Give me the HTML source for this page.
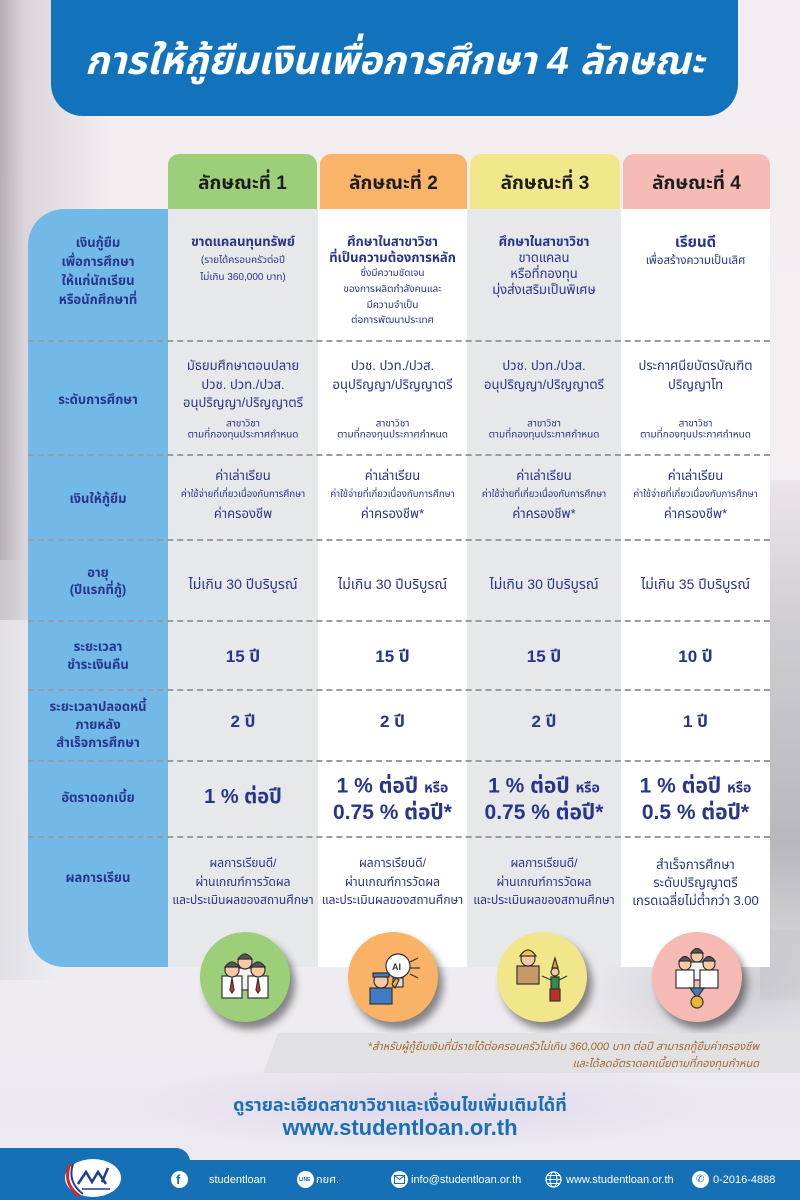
<!DOCTYPE html>
<html>
<head>
<meta charset="utf-8">
<style>
*{margin:0;padding:0;box-sizing:border-box;}
html,body{width:800px;height:1200px;overflow:hidden;}
body{position:relative;font-family:"Liberation Sans","Noto Sans Thai","Noto Sans Thai UI","Loma","Garuda","Tlwg Typo","Norasi","Kinnari","Noto Sans CJK SC",sans-serif;
background:linear-gradient(180deg,#f3ecf0 0%,#f4eef1 35%,#efedf0 60%,#eeedf0 80%,#ece8f0 92%,#eeeaf2 100%);}
.bgl{position:absolute;left:0;top:0;width:120px;height:620px;background:linear-gradient(90deg,rgba(160,155,160,0.75) 0,rgba(190,185,190,0.45) 25px,rgba(220,215,220,0) 110px);}
.bgl2{position:absolute;left:0;top:560px;width:60px;height:420px;background:linear-gradient(90deg,rgba(215,215,220,0.6),rgba(230,230,235,0));}
.bgr{position:absolute;right:0;top:480px;width:40px;height:520px;background:linear-gradient(180deg,rgba(220,210,215,0.3) 0,rgba(190,190,196,0.7) 30%,rgba(160,160,168,0.7) 70%,rgba(210,210,215,0.4) 100%);}
.bgb{position:absolute;left:560px;top:930px;width:240px;height:140px;background:radial-gradient(ellipse at 75% 40%,rgba(175,175,182,0.5),rgba(230,230,235,0) 70%);}
.bgp{position:absolute;left:120px;top:1060px;width:600px;height:90px;background:radial-gradient(ellipse at 50% 50%,rgba(215,205,230,0.6),rgba(235,230,240,0) 70%);}
.title{position:absolute;left:51px;top:-40px;width:687px;height:156px;background:#1273bc;border-radius:32px;}
.title span{position:absolute;left:0;right:0;top:80px;text-align:center;color:#fff;font-weight:bold;font-style:italic;font-size:39px;line-height:44px;white-space:nowrap;}
.tab{position:absolute;top:154px;height:56px;border-radius:11px 11px 0 0;text-align:center;font-weight:bold;font-size:19px;line-height:60px;color:#1d1d1d;white-space:nowrap;}
.col{position:absolute;top:209px;height:758px;}
.blue{position:absolute;left:28px;top:209px;width:140px;height:758px;background:#73b9e8;border-radius:36px 0 0 36px;}
.dash{position:absolute;left:28px;width:742px;height:0;border-top:2px dashed #9a9ca3;}
.t{position:absolute;white-space:nowrap;text-align:center;color:#27358a;transform:translateY(-50%);line-height:18px;}
.L{left:28px;width:140px;font-weight:bold;font-size:13px;}
.c1{left:168px;width:150px;}
.c2{left:318px;width:149px;}
.c3{left:467px;width:154px;}
.c4{left:621px;width:149px;}
.b{font-weight:bold;font-size:13px;}
.s{font-size:10px;}
.xs{font-size:10px;}
.xx{font-size:9.6px;}
.m{font-size:13px;}
.big{font-weight:bold;font-size:17px;}
.bb{font-weight:bold;font-size:21px;}
.circ{position:absolute;width:90px;height:90px;border-radius:50%;top:932px;box-shadow:5px 7px 8px rgba(0,0,0,0.45);}
.note{position:absolute;left:0;top:1033px;width:800px;height:40px;}
.nt{position:absolute;right:41px;font-style:italic;font-size:11px;color:#a5672e;white-space:nowrap;text-align:right;line-height:14px;}
.more{position:absolute;left:0;width:800px;text-align:center;color:#1b6fb5;font-weight:bold;white-space:nowrap;}
.foot{position:absolute;left:0;top:1160px;width:800px;height:40px;background:#1570b6;}
.ftab{position:absolute;left:0;top:1148px;width:190px;height:30px;background:#1570b6;border-radius:0 14px 0 0;}
.fi{position:absolute;top:1180px;transform:translateY(-50%);color:#fff;font-size:11px;white-space:nowrap;line-height:14px;}
.ic{position:absolute;top:1171px;width:17px;height:17px;border-radius:50%;background:#fff;}
</style>
</head>
<body>
<div class="bgl"></div><div class="bgl2"></div><div class="bgr"></div><div class="bgb"></div><div class="bgp"></div>

<div class="title"><span>การให้กู้ยืมเงินเพื่อการศึกษา 4 ลักษณะ</span></div>

<div class="tab" style="left:168px;width:149px;background:#9dcf7a;">ลักษณะที่ 1</div>
<div class="tab" style="left:320px;width:147px;background:#f9b469;">ลักษณะที่ 2</div>
<div class="tab" style="left:470px;width:150px;background:#f2e78a;">ลักษณะที่ 3</div>
<div class="tab" style="left:623px;width:147px;background:#f7bbb5;">ลักษณะที่ 4</div>

<div class="blue"></div>
<div class="col" style="left:168px;width:150px;background:#e7e8ea;"></div>
<div class="col" style="left:318px;width:149px;background:#ffffff;"></div>
<div class="col" style="left:467px;width:154px;background:#e7e8ea;"></div>
<div class="col" style="left:621px;width:149px;background:#ffffff;"></div>

<div class="dash" style="top:340px"></div>
<div class="dash" style="top:454px"></div>
<div class="dash" style="top:539px"></div>
<div class="dash" style="top:620px"></div>
<div class="dash" style="top:689px"></div>
<div class="dash" style="top:760px"></div>
<div class="dash" style="top:836px"></div>

<!-- Row 1 -->
<div class="t L" style="top:243px">เงินกู้ยืม</div>
<div class="t L" style="top:262px">เพื่อการศึกษา</div>
<div class="t L" style="top:281px">ให้แก่นักเรียน</div>
<div class="t L" style="top:300px">หรือนักศึกษาที่</div>

<div class="t c1 b" style="top:242px">ขาดแคลนทุนทรัพย์</div>
<div class="t c1 s" style="top:261px">(รายได้ครอบครัวต่อปี</div>
<div class="t c1 s" style="top:278px">ไม่เกิน 360,000 บาท)</div>

<div class="t c2 b" style="top:242px">ศึกษาในสาขาวิชา</div>
<div class="t c2 b" style="top:258px">ที่เป็นความต้องการหลัก</div>
<div class="t c2 s" style="top:274px">ซึ่งมีความชัดเจน</div>
<div class="t c2 s" style="top:290px">ของการผลิตกำลังคนและ</div>
<div class="t c2 s" style="top:306px">มีความจำเป็น</div>
<div class="t c2 s" style="top:321px">ต่อการพัฒนาประเทศ</div>

<div class="t c3 b" style="top:242px">ศึกษาในสาขาวิชา</div>
<div class="t c3 m" style="top:258px">ขาดแคลน</div>
<div class="t c3 m" style="top:274px">หรือที่กองทุน</div>
<div class="t c3 m" style="top:290px">มุ่งส่งเสริมเป็นพิเศษ</div>

<div class="t c4" style="top:243px;font-weight:bold;font-size:15px;">เรียนดี</div>
<div class="t c4" style="top:261px;font-size:11.5px;">เพื่อสร้างความเป็นเลิศ</div>

<!-- Row 2 -->
<div class="t L" style="top:400px">ระดับการศึกษา</div>
<div class="t c1 m" style="top:366px">มัธยมศึกษาตอนปลาย</div>
<div class="t c1 m" style="top:385px">ปวช. ปวท./ปวส.</div>
<div class="t c1 m" style="top:403px">อนุปริญญา/ปริญญาตรี</div>
<div class="t c1 xs" style="top:424px;line-height:11px">สาขาวิชา</div>
<div class="t c1 xs" style="top:435px;line-height:11px">ตามที่กองทุนประกาศกำหนด</div>

<div class="t c2 m" style="top:366px">ปวช. ปวท./ปวส.</div>
<div class="t c2 m" style="top:385px">อนุปริญญา/ปริญญาตรี</div>
<div class="t c2 xs" style="top:424px;line-height:11px">สาขาวิชา</div>
<div class="t c2 xs" style="top:435px;line-height:11px">ตามที่กองทุนประกาศกำหนด</div>

<div class="t c3 m" style="top:366px">ปวช. ปวท./ปวส.</div>
<div class="t c3 m" style="top:385px">อนุปริญญา/ปริญญาตรี</div>
<div class="t c3 xs" style="top:424px;line-height:11px">สาขาวิชา</div>
<div class="t c3 xs" style="top:435px;line-height:11px">ตามที่กองทุนประกาศกำหนด</div>

<div class="t c4 m" style="top:366px">ประกาศนียบัตรบัณฑิต</div>
<div class="t c4 m" style="top:385px">ปริญญาโท</div>
<div class="t c4 xs" style="top:424px;line-height:11px">สาขาวิชา</div>
<div class="t c4 xs" style="top:435px;line-height:11px">ตามที่กองทุนประกาศกำหนด</div>

<!-- Row 3 -->
<div class="t L" style="top:499px">เงินให้กู้ยืม</div>
<div class="t c1 m" style="top:476px">ค่าเล่าเรียน</div>
<div class="t c1 xx" style="top:495px">ค่าใช้จ่ายที่เกี่ยวเนื่องกับการศึกษา</div>
<div class="t c1 m" style="top:514px">ค่าครองชีพ</div>
<div class="t c2 m" style="top:476px">ค่าเล่าเรียน</div>
<div class="t c2 xx" style="top:495px">ค่าใช้จ่ายที่เกี่ยวเนื่องกับการศึกษา</div>
<div class="t c2 m" style="top:514px">ค่าครองชีพ*</div>
<div class="t c3 m" style="top:476px">ค่าเล่าเรียน</div>
<div class="t c3 xx" style="top:495px">ค่าใช้จ่ายที่เกี่ยวเนื่องกับการศึกษา</div>
<div class="t c3 m" style="top:514px">ค่าครองชีพ*</div>
<div class="t c4 m" style="top:476px">ค่าเล่าเรียน</div>
<div class="t c4 xx" style="top:495px">ค่าใช้จ่ายที่เกี่ยวเนื่องกับการศึกษา</div>
<div class="t c4 m" style="top:514px">ค่าครองชีพ*</div>

<!-- Row 4 -->
<div class="t L" style="top:573px">อายุ</div>
<div class="t L" style="top:590px">(ปีแรกที่กู้)</div>
<div class="t c1" style="top:584px;font-size:14px">ไม่เกิน 30 ปีบริบูรณ์</div>
<div class="t c2" style="top:584px;font-size:14px">ไม่เกิน 30 ปีบริบูรณ์</div>
<div class="t c3" style="top:584px;font-size:14px">ไม่เกิน 30 ปีบริบูรณ์</div>
<div class="t c4" style="top:584px;font-size:14px">ไม่เกิน 35 ปีบริบูรณ์</div>

<!-- Row 5 -->
<div class="t L" style="top:647px">ระยะเวลา</div>
<div class="t L" style="top:665px">ชำระเงินคืน</div>
<div class="t c1 big" style="top:657px">15 ปี</div>
<div class="t c2 big" style="top:657px">15 ปี</div>
<div class="t c3 big" style="top:657px">15 ปี</div>
<div class="t c4 big" style="top:657px">10 ปี</div>

<!-- Row 6 -->
<div class="t L" style="top:707px">ระยะเวลาปลอดหนี้</div>
<div class="t L" style="top:725px">ภายหลัง</div>
<div class="t L" style="top:743px">สำเร็จการศึกษา</div>
<div class="t c1 big" style="top:722px">2 ปี</div>
<div class="t c2 big" style="top:722px">2 ปี</div>
<div class="t c3 big" style="top:722px">2 ปี</div>
<div class="t c4 big" style="top:722px">1 ปี</div>

<!-- Row 7 -->
<div class="t L" style="top:798px">อัตราดอกเบี้ย</div>
<div class="t c1" style="top:797px;font-weight:bold;font-size:20px;">1 % ต่อปี</div>
<div class="t c2 bb" style="top:787px">1 % ต่อปี <span style="font-size:14px">หรือ</span></div>
<div class="t c2 bb" style="top:813px">0.75 % ต่อปี*</div>
<div class="t c3 bb" style="top:787px">1 % ต่อปี <span style="font-size:14px">หรือ</span></div>
<div class="t c3 bb" style="top:813px">0.75 % ต่อปี*</div>
<div class="t c4 bb" style="top:787px">1 % ต่อปี <span style="font-size:14px">หรือ</span></div>
<div class="t c4 bb" style="top:813px">0.5 % ต่อปี*</div>

<!-- Row 8 -->
<div class="t L" style="top:878px">ผลการเรียน</div>
<div class="t c1" style="top:863px;font-size:12px">ผลการเรียนดี/</div>
<div class="t c1" style="top:882px;font-size:12px">ผ่านเกณฑ์การวัดผล</div>
<div class="t c1" style="top:900px;font-size:12px">และประเมินผลของสถานศึกษา</div>
<div class="t c2" style="top:863px;font-size:12px">ผลการเรียนดี/</div>
<div class="t c2" style="top:882px;font-size:12px">ผ่านเกณฑ์การวัดผล</div>
<div class="t c2" style="top:900px;font-size:12px">และประเมินผลของสถานศึกษา</div>
<div class="t c3" style="top:863px;font-size:12px">ผลการเรียนดี/</div>
<div class="t c3" style="top:882px;font-size:12px">ผ่านเกณฑ์การวัดผล</div>
<div class="t c3" style="top:900px;font-size:12px">และประเมินผลของสถานศึกษา</div>
<div class="t c4" style="top:865px;font-size:13px">สำเร็จการศึกษา</div>
<div class="t c4" style="top:883px;font-size:13px">ระดับปริญญาตรี</div>
<div class="t c4" style="top:901px;font-size:13px">เกรดเฉลี่ยไม่ต่ำกว่า 3.00</div>

<!-- Circles -->
<div class="circ" style="left:200px;background:#9dcf7a;">
<svg width="90" height="90" viewBox="0 0 90 90">
 <g stroke="#333" stroke-width="1.2">
  <rect x="31" y="36" width="28" height="22" fill="#f2f2f2"/>
  <circle cx="45" cy="30" r="7" fill="#f6c9a2"/>
  <path d="M38 27 q7 -10 14 0 z" fill="#555"/>
  <rect x="22" y="44" width="20" height="22" fill="#fff"/>
  <circle cx="32" cy="38" r="7" fill="#f6c9a2"/>
  <path d="M25 35 q7 -10 14 0 z" fill="#555"/>
  <rect x="48" y="44" width="20" height="22" fill="#fff"/>
  <circle cx="58" cy="38" r="7" fill="#f6c9a2"/>
  <path d="M51 35 q7 -10 14 0 z" fill="#555"/>
  <path d="M32 46 l-2 12 l2 3 l2 -3 z" fill="#d33"/>
  <path d="M58 46 l-2 12 l2 3 l2 -3 z" fill="#d33"/>
 </g>
</svg>
</div>
<div class="circ" style="left:348px;background:#f9b266;">
<svg width="90" height="90" viewBox="0 0 90 90">
 <g stroke="#333" stroke-width="1.2">
  <circle cx="50" cy="34" r="12" fill="#fff"/>
  <text x="44" y="38" font-size="9" font-family="Liberation Sans" font-weight="bold" fill="#333" stroke="none">AI</text>
  <rect x="45" y="46" width="10" height="9" fill="#ddd"/>
  <line x1="62" y1="30" x2="70" y2="26"/><line x1="62" y1="36" x2="72" y2="36"/><line x1="62" y1="42" x2="70" y2="46"/>
  <rect x="22" y="56" width="22" height="16" fill="#3f7cc4"/>
  <circle cx="33" cy="49" r="7" fill="#f6c9a2"/>
  <path d="M25 45 h16 v-4 h-16 z" fill="#3f7cc4"/>
  <path d="M44 52 l4 -6 l3 2 l-4 8 z" fill="#f2b035"/>
 </g>
</svg>
</div>
<div class="circ" style="left:497px;background:#f2e68a;">
<svg width="90" height="90" viewBox="0 0 90 90">
 <g stroke="#333" stroke-width="1.2">
  <rect x="20" y="34" width="22" height="18" fill="#c89a66"/>
  <circle cx="31" cy="27" r="7" fill="#f6c9a2"/>
  <path d="M23 24 q8 -12 16 0 z" fill="#f2c14e"/>
  <path d="M55 36 l3 -10 l3 10 z" fill="#d9a52b"/>
  <circle cx="58" cy="40" r="4" fill="#f6c9a2"/>
  <rect x="54" y="45" width="8" height="12" fill="#2f8f4a"/>
  <rect x="53" y="57" width="10" height="12" fill="#b9322a"/>
  <line x1="54" y1="48" x2="45" y2="44"/><line x1="62" y1="48" x2="70" y2="44"/>
 </g>
</svg>
</div>
<div class="circ" style="left:652px;background:#f7b9b4;">
<svg width="90" height="90" viewBox="0 0 90 90">
 <g stroke="#333" stroke-width="1.2">
  <rect x="34" y="30" width="22" height="18" fill="#f2f2f2"/>
  <circle cx="45" cy="24" r="6" fill="#f6c9a2"/>
  <path d="M39 21 q6 -9 12 0 z" fill="#555"/>
  <rect x="24" y="38" width="18" height="18" fill="#fff"/>
  <circle cx="33" cy="32" r="6" fill="#f6c9a2"/>
  <path d="M27 29 q6 -9 12 0 z" fill="#555"/>
  <rect x="48" y="38" width="18" height="18" fill="#fff"/>
  <circle cx="57" cy="32" r="6" fill="#f6c9a2"/>
  <path d="M51 29 q6 -9 12 0 z" fill="#555"/>
  <path d="M38 56 l7 10 l7 -10 z" fill="#3f7cc4"/>
  <circle cx="45" cy="70" r="6" fill="#e9b43a"/>
 </g>
</svg>
</div>

<!-- Footnote -->
<svg class="note" width="800" height="40" viewBox="0 0 800 40"><polygon points="278,0 800,0 800,40 263,40" fill="#e1e1e4"/></svg>
<div class="nt" style="top:1040px">*สำหรับผู้กู้ยืมเงินที่มีรายได้ต่อครอบครัวไม่เกิน 360,000 บาท ต่อปี สามารถกู้ยืมค่าครองชีพ</div>
<div class="nt" style="top:1057px">และได้ลดอัตราดอกเบี้ยตามที่กองทุนกำหนด</div>

<div class="more" style="top:1093px;font-size:18px;line-height:24px;">ดูรายละเอียดสาขาวิชาและเงื่อนไขเพิ่มเติมได้ที่</div>
<div class="more" style="top:1115px;font-size:22px;line-height:26px;">www.studentloan.or.th</div>

<!-- Footer -->
<div class="ftab"></div>
<div class="foot"></div>
<svg style="position:absolute;left:62px;top:1156px" width="62" height="44" viewBox="0 0 62 44">
 <ellipse cx="31" cy="22" rx="28" ry="19" fill="#fff"/>
 <path d="M8 8 q-8 20 10 32" stroke="#d7262e" stroke-width="3" fill="none"/>
 <path d="M11 8 q-6 18 10 30" stroke="#1d3d8f" stroke-width="2" fill="none"/>
 <path d="M16 28 l8 -12 l6 10 l6 -10 l8 12 m-4 -2 l6 -14" stroke="#1d3d8f" stroke-width="2.5" fill="none"/>
 <line x1="20" y1="33" x2="48" y2="33" stroke="#1d3d8f" stroke-width="1.5"/>
</svg>

<div class="ic" style="left:171px;"></div>
<div class="fi" style="left:176px;color:#1570b6;font-weight:bold;font-size:13px;">f</div>
<div class="fi" style="left:209px;">studentloan</div>

<div class="ic" style="left:297px;"></div>
<div class="fi" style="left:299px;color:#1570b6;font-size:5px;font-weight:bold;">LINE</div>
<div class="fi" style="left:316px;">กยศ.</div>

<div class="ic" style="left:391px;"></div>
<svg style="position:absolute;left:394px;top:1175px" width="11" height="9" viewBox="0 0 11 9"><rect x="0.5" y="0.5" width="10" height="8" fill="none" stroke="#1570b6"/><path d="M0.5 0.5 l5 4 l5 -4" fill="none" stroke="#1570b6"/></svg>
<div class="fi" style="left:411px;">info@studentloan.or.th</div>

<svg style="position:absolute;left:545px;top:1171px" width="17" height="17" viewBox="0 0 17 17"><circle cx="8.5" cy="8.5" r="7.5" fill="none" stroke="#fff" stroke-width="1.2"/><ellipse cx="8.5" cy="8.5" rx="3.5" ry="7.5" fill="none" stroke="#fff"/><line x1="1" y1="8.5" x2="16" y2="8.5" stroke="#fff"/><line x1="2.5" y1="4.5" x2="14.5" y2="4.5" stroke="#fff"/><line x1="2.5" y1="12.5" x2="14.5" y2="12.5" stroke="#fff"/></svg>
<div class="fi" style="left:566px;">www.studentloan.or.th</div>

<div class="ic" style="left:692px;"></div>
<div class="fi" style="left:696px;color:#1570b6;font-size:10px;">✆</div>
<div class="fi" style="left:713px;">0-2016-4888</div>
</body>
</html>
